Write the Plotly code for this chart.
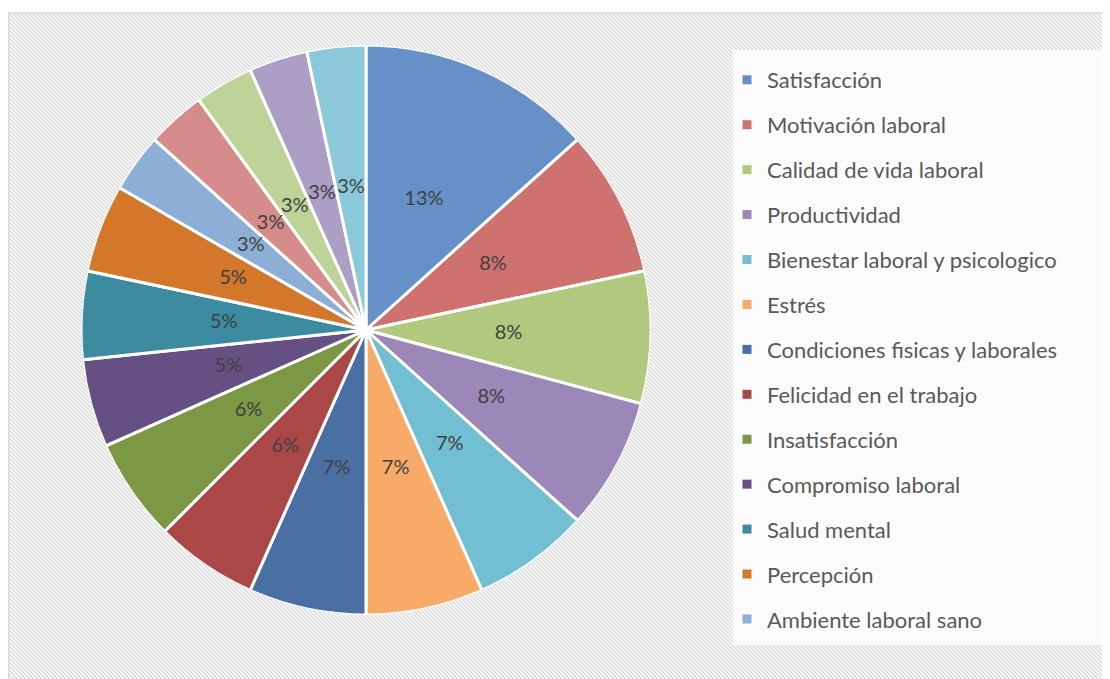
import base64
import math
import plotly.graph_objects as go

# ---------------- data ----------------
categories = [
    "Satisfacción", "Motivación laboral", "Calidad de vida laboral", "Productividad",
    "Bienestar laboral y psicologico", "Estrés", "Condiciones fisicas y laborales",
    "Felicidad en el trabajo", "Insatisfacción", "Compromiso laboral", "Salud mental",
    "Percepción", "Ambiente laboral sano", "Categoría 14", "Categoría 15",
    "Categoría 16", "Categoría 17",
]
values = [16, 10, 9, 9, 8, 8, 8, 7, 7, 6, 6, 6, 4, 4, 4, 4, 4]
legend_count = 13  # only the first 13 entries fit in the original legend

colors = [
    "#6790C8", "#CF726F", "#B0C97F", "#9C87B9", "#72BED3", "#F8AA69",
    "#4A70A3", "#A94846", "#7C9844", "#654F83", "#3C8BA0", "#D5772B",
    "#8DAED6", "#D68C8A", "#BED397", "#AD9EC5", "#8BC9DA",
]

# ---------------- derived ----------------
total = sum(values)
pct_text = [f"{math.floor(v / total * 100 + 0.5 + 1e-9)}%" for v in values]
widths = [v / total * 360.0 for v in values]
mid_angles = []
acc = 0.0
for w in widths:
    mid_angles.append(acc + w / 2)
    acc += w

# page has an 8px body margin; figure covers page x 8..1110, y 8..679
OX, OY = 8, 8
W, H = 1110 - OX, 679 - OY


def px(x):
    return (x - OX) / W


def py(y):
    return 1 - (y - OY) / H


cx, cy, R = 366, 330, 285
dom_x = [px(cx - R), px(cx + R)]
dom_y = [py(cy + R), py(cy - R)]

# hatched background as svg pattern
bw, bh = W, H - (13 - OY)
svg = (
    f'<svg xmlns="http://www.w3.org/2000/svg" width="{bw}" height="{bh}">'
    '<defs><pattern id="p" width="4" height="4" patternUnits="userSpaceOnUse">'
    '<path d="M-1,-1 L5,5 M-1,3 L1,5 M3,-1 L5,1" stroke="#dadada" stroke-width="1.5"/>'
    '</pattern></defs>'
    f'<rect width="{bw}" height="{bh}" fill="#ffffff"/>'
    f'<rect width="{bw}" height="{bh}" fill="url(#p)"/></svg>'
)
svg_uri = "data:image/svg+xml;base64," + base64.b64encode(svg.encode()).decode()

fig = go.Figure()

fig.add_trace(go.Barpolar(
    r=[1] * len(values), theta=mid_angles, width=widths, base=0,
    marker=dict(color=colors, line=dict(color="white", width=3)),
    customdata=categories, text=pct_text, showlegend=False,
    hovertemplate="%{customdata}: %{text}<extra></extra>",
))

fig.add_trace(go.Scatterpolar(
    r=[0.5] * len(values), theta=mid_angles, mode="text", text=pct_text,
    textfont=dict(family="Lato, sans-serif", size=20, color="#404040"),
    showlegend=False, hoverinfo="skip",
))

for name, col in zip(categories[:legend_count], colors[:legend_count]):
    fig.add_trace(go.Scatter(
        x=[None], y=[None], mode="markers", name=name, legendgroup=name,
        marker=dict(symbol="square", size=9, color=col),
    ))

fig.update_layout(
    width=W, height=H, margin=dict(l=0, r=0, t=0, b=0),
    paper_bgcolor="white", plot_bgcolor="rgba(0,0,0,0)",
    xaxis=dict(visible=False), yaxis=dict(visible=False),
    polar=dict(
        domain=dict(x=dom_x, y=dom_y), bgcolor="rgba(0,0,0,0)", hole=0,
        radialaxis=dict(visible=False, range=[0, 1]),
        angularaxis=dict(visible=False, rotation=90, direction="clockwise"),
    ),
    legend=dict(
        x=px(727), y=py(59), xanchor="left", yanchor="top",
        bgcolor="rgba(0,0,0,0)", traceorder="grouped", tracegroupgap=13.33,
        font=dict(family="Lato, sans-serif", size=22, color="#595959"),
        itemclick=False, itemdoubleclick=False,
    ),
    images=[dict(
        source=svg_uri, xref="paper", yref="paper", x=0, y=py(13),
        sizex=1, sizey=bh / H, xanchor="left", yanchor="top",
        sizing="stretch", layer="below",
    )],
    shapes=[
        dict(type="rect", xref="paper", yref="paper", x0=px(733), x1=1.0,
             y0=py(645), y1=py(50), fillcolor="rgba(255,255,255,0.8)",
             line=dict(width=0), layer="below"),
        dict(type="rect", xref="paper", yref="paper", x0=px(8.7), x1=1.01,
             y0=-0.01, y1=py(13), fillcolor="rgba(0,0,0,0)",
             line=dict(color="#d9d9d9", width=1.5), layer="above"),
    ],
    hovermode="closest",
)

fig.write_html("out.html")
